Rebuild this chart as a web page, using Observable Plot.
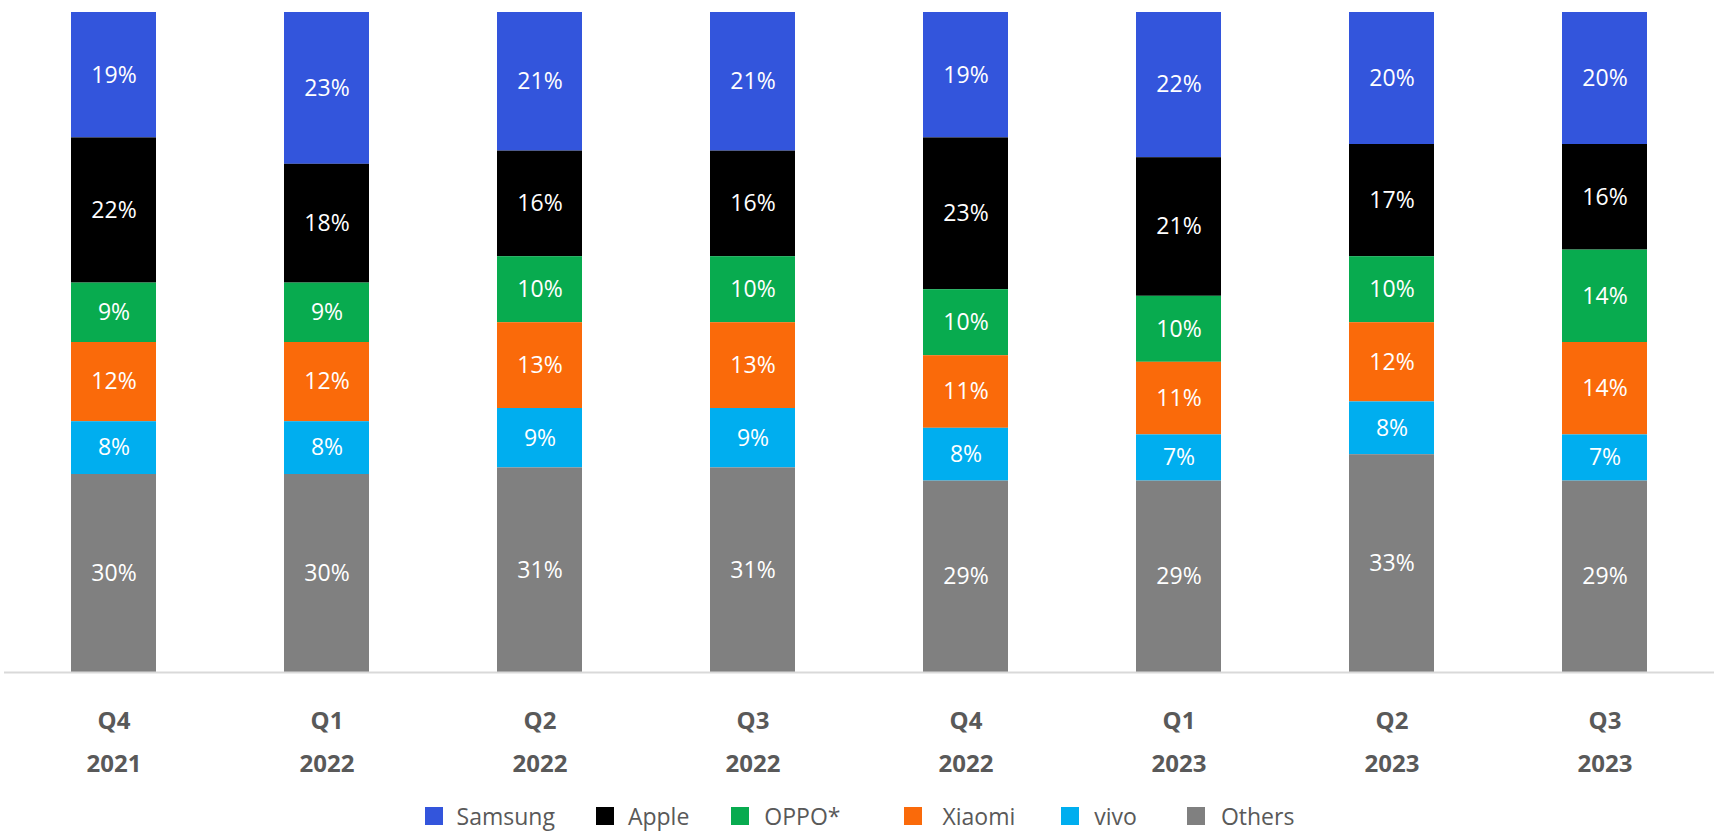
<!DOCTYPE html>
<html>
<head>
<meta charset="utf-8">
<script src="https://cdn.jsdelivr.net/npm/d3@7"></script>
<script src="https://cdn.jsdelivr.net/npm/@observablehq/plot@0.6"></script>
<style>
  html, body { margin: 0; padding: 0; background: #fff; }
  #chart svg { display: block; }
  #legend { display: flex; justify-content: center; align-items: center; height: 52px; font-family: "Open Sans", "Noto Sans", sans-serif; font-size: 23px; color: #595959; padding-left: 0; }
  .item { display: flex; align-items: center; }
  .sw { width: 18px; height: 18px; }
</style>
</head>
<body>
<div id="chart"></div>
<div id="legend"></div>
<script>
const quarters = ["Q4\n2021", "Q1\n2022", "Q2\n2022", "Q3\n2022", "Q4\n2022", "Q1\n2023", "Q2\n2023", "Q3\n2023"];
const brands = ["Samsung", "Apple", "OPPO*", "Xiaomi", "vivo", "Others"];
const colors = ["#3355DC", "#000000", "#08AB4F", "#FA6A0A", "#00AEEF", "#808080"];
const samsung = [19, 23, 21, 21, 19, 22, 20, 20];
const apple   = [22, 18, 16, 16, 23, 21, 17, 16];
const oppo    = [9, 9, 10, 10, 10, 10, 10, 14];
const xiaomi  = [12, 12, 13, 13, 11, 11, 12, 14];
const vivo    = [8, 8, 9, 9, 8, 7, 8, 7];
const others  = [30, 30, 31, 31, 29, 29, 33, 29];

// legend layout (px): gap after swatch, gap after label
const legendSwatchGap = [14, 14, 15, 20, 15, 16];
const legendItemGap = [41, 42, 64, 46, 50, 0];

const series = [samsung, apple, oppo, xiaomi, vivo, others];
const data = [];
brands.forEach((b, i) => quarters.forEach((q, j) => data.push({quarter: q, brand: b, value: series[i][j]})));

const stackOrder = brands.slice().reverse();

const chart = Plot.plot({
  width: 1719,
  height: 790,
  marginTop: 12,
  marginBottom: 118,
  marginLeft: 4,
  marginRight: 5,
  style: {fontFamily: "'Open Sans', 'Noto Sans', sans-serif", background: "#fff"},
  x: {domain: quarters, paddingInner: 0.6, paddingOuter: 0.3, label: null},
  y: {domain: [0, 100], axis: null},
  color: {domain: brands, range: colors},
  marks: [
    Plot.barY(data, Plot.stackY({order: stackOrder}, {x: "quarter", y: "value", z: "brand", fill: "brand"})),
    Plot.text(data, Plot.stackY({order: stackOrder}, {x: "quarter", y: "value", z: "brand", text: d => d.value + "%", fill: "white", fontSize: 23})),
    Plot.ruleY([0], {stroke: "#D9D9D9", strokeWidth: 2}),
    Plot.axisX({tickSize: 0, tickPadding: 26, fontSize: 24, fontWeight: "bold", fill: "#595959", lineHeight: 1.8, label: null})
  ]
});
document.getElementById("chart").appendChild(chart);

const legend = document.getElementById("legend");
brands.forEach((b, i) => {
  const item = document.createElement("div");
  item.className = "item";
  item.style.marginRight = legendItemGap[i] + "px";
  const sw = document.createElement("div");
  sw.className = "sw";
  sw.style.background = colors[i];
  sw.style.marginRight = legendSwatchGap[i] + "px";
  const t = document.createElement("span");
  t.textContent = b;
  item.appendChild(sw);
  item.appendChild(t);
  legend.appendChild(item);
});
</script>
</body>
</html>
